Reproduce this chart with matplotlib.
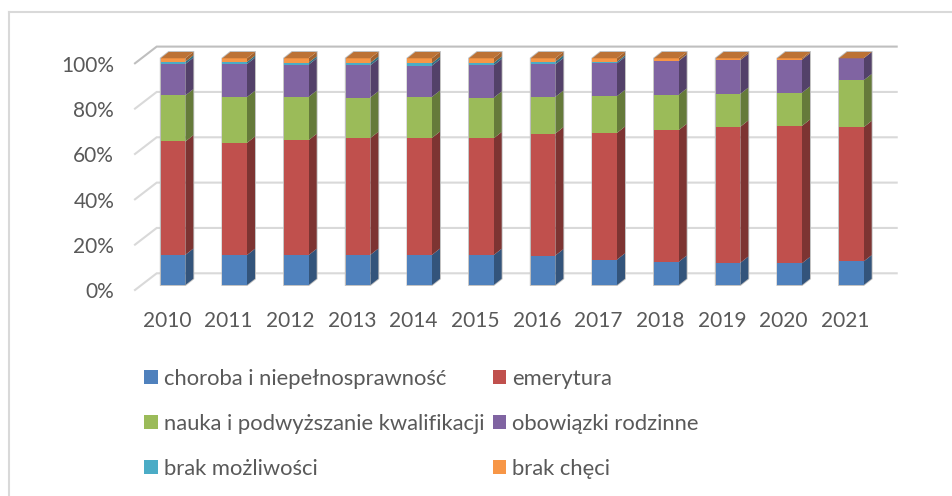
import matplotlib
matplotlib.use("Agg")
import matplotlib.pyplot as plt
from matplotlib.lines import Line2D
from matplotlib.patches import Patch, Polygon
from matplotlib.transforms import ScaledTranslation
import numpy as np

plt.rcParams['font.family'] = ['Lato', 'DejaVu Sans']

years = ['2010', '2011', '2012', '2013', '2014', '2015', '2016', '2017', '2018', '2019', '2020', '2021']
ytick_values = [0, 20, 40, 60, 80, 100]
ytick_labels = ['0%', '20%', '40%', '60%', '80%', '100%']

choroba = [13.3, 13.2, 13.2, 13.3, 13.3, 13.2, 13.0, 11.2, 10.2, 9.8, 9.6, 10.4]
emerytura = [50.0, 49.5, 50.7, 51.5, 51.6, 51.5, 53.8, 55.9, 58.1, 60.0, 60.6, 59.2]
nauka = [20.3, 20.2, 19.1, 17.9, 18.1, 17.9, 16.2, 16.2, 15.6, 14.5, 14.6, 20.7]
obowiazki = [13.9, 14.6, 14.2, 14.2, 13.8, 14.3, 14.3, 14.5, 14.9, 14.9, 14.6, 9.7]
brak_mozliwosci = [1.0, 0.9, 0.9, 1.1, 1.1, 1.1, 1.2, 0.7, 0.1, 0.0, 0.0, 0.0]
brak_checi = [1.5, 1.6, 1.9, 2.0, 2.1, 2.0, 1.5, 1.5, 1.1, 0.8, 0.6, 0.0]

series = [
    ('choroba i niepełnosprawność', choroba, '#4F81BD'),
    ('emerytura', emerytura, '#C0504D'),
    ('nauka i podwyższanie kwalifikacji', nauka, '#9BBB59'),
    ('obowiązki rodzinne', obowiazki, '#8064A2'),
    ('brak możliwości', brak_mozliwosci, '#4BACC6'),
    ('brak chęci', brak_checi, '#F79646'),
]

W, H = 953, 496
fig = plt.figure(figsize=(W / 100, H / 100), dpi=100)
fig.patch.set_facecolor('white')

# outer chart frame (open on right and bottom of the crop)
frame = '#D9D9D9'
fig.add_artist(Line2D([9.5 / W, 9.5 / W], [0, 1 - 11.5 / H], color=frame, lw=1.5, transform=fig.transFigure))
fig.add_artist(Line2D([9.5 / W, 1], [1 - 11.5 / H, 1 - 11.5 / H], color=frame, lw=1.5, transform=fig.transFigure))

# axes = front plane of the 3D box
L, R, T, B = 135, 875, 63.3, 290
ax = fig.add_axes([L / W, 1 - B / H, (R - L) / W, (B - T) / H])
ax.set_xlim(-0.5, 11.5)
ax.set_ylim(0, 100)
ax.patch.set_visible(False)
for s in ax.spines.values():
    s.set_visible(False)

px_x = 12 / (R - L)    # data units per x pixel
px_y = 100 / (B - T)   # data units per y pixel

wall_dx, wall_dy = 21.7 * px_x, 16.7 * px_y
for v in ytick_values:
    c = '#BFBFBF' if v == 100 else '#D9D9D9'
    ax.plot([-0.5, -0.5 + wall_dx, 11.5 + wall_dx], [v, v + wall_dy, v + wall_dy],
            color=c, lw=1.5, clip_on=False, zorder=1, solid_joinstyle='miter')


def shade(hex_color, k):
    rgb = np.array(matplotlib.colors.to_rgb(hex_color))
    return tuple(rgb * k)


off_x, base = 7.2 * px_x, 5 * px_y
bw = 24.6 * px_x
dep_x, dep_y = 8 * px_x, 6.3 * px_y
edge = '#BDBDBD'

for i in range(len(years)):
    left = i + off_x - bw / 2
    right = left + bw
    bottom = base
    total = sum(s[1][i] for s in series)
    # light outline around the block, as in the reference
    ax.add_patch(Polygon([(left, bottom), (right, bottom), (right + dep_x, bottom + dep_y),
                          (right + dep_x, bottom + total + dep_y), (left + dep_x, bottom + total + dep_y),
                          (left, bottom + total)],
                         closed=True, fc='none', ec=edge, lw=1.3, clip_on=False, zorder=2))
    y = bottom
    for name, vals, col in series:
        v = vals[i]
        if v > 0:
            ax.add_patch(Polygon([(right, y), (right + dep_x, y + dep_y),
                                  (right + dep_x, y + v + dep_y), (right, y + v)],
                                 closed=True, fc=shade(col, 0.65), ec='none', clip_on=False, zorder=3))
            ax.add_patch(Polygon([(left, y), (right, y), (right, y + v), (left, y + v)],
                                 closed=True, fc=col, ec='none', clip_on=False, zorder=3))
        y += v
    # the top cap is orange-brown on every bar in the reference
    ax.add_patch(Polygon([(left, y), (right, y), (right + dep_x, y + dep_y), (left + dep_x, y + dep_y)],
                         closed=True, fc=shade('#F79646', 0.76), ec='none', clip_on=False, zorder=3))

ax.set_xticks(range(len(years)))
ax.set_xticklabels(years)
ax.set_yticks(ytick_values)
ax.set_yticklabels(ytick_labels)
ax.tick_params(axis='both', length=0, labelsize=15, labelcolor='#595959')
ax.tick_params(axis='y', pad=15)
ax.tick_params(axis='x', pad=15)
for lab in ax.get_xticklabels():
    lab.set_transform(lab.get_transform() + ScaledTranslation(1.2 / 100, 0, fig.dpi_scale_trans))
for lab in ax.get_yticklabels():
    lab.set_transform(lab.get_transform() + ScaledTranslation(0, -0.5 / 100, fig.dpi_scale_trans))

order = [0, 2, 4, 1, 3, 5]
handles = [Patch(facecolor=series[k][2], edgecolor='none', label=series[k][0]) for k in order]
fig.legend(handles=handles, ncols=2, loc='upper left',
           bbox_to_anchor=(144.5 / W, 1 - 369 / H), frameon=False,
           fontsize=15.8, labelcolor='#595959',
           handlelength=0.63, handleheight=0.63, handletextpad=0.27,
           labelspacing=1.13, columnspacing=0.36, borderpad=0, borderaxespad=0)

fig.savefig('out.png', dpi=100)
